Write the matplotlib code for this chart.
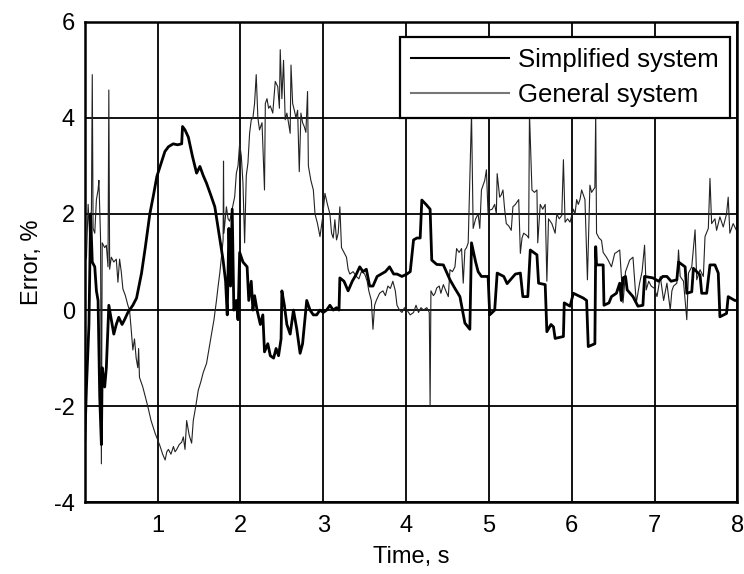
import matplotlib
matplotlib.use("Agg")
import matplotlib.pyplot as plt

plt.rcParams['font.family'] = ['Liberation Sans', 'DejaVu Sans']
plt.rcParams['axes.unicode_minus'] = False

# Simplified system (thick line)
t_simp = [0.12, 0.14, 0.17, 0.19, 0.21, 0.24, 0.26, 0.28, 0.30, 0.32, 0.33, 0.36, 0.38,
          0.41, 0.43, 0.47, 0.50, 0.53, 0.57, 0.60, 0.64, 0.70, 0.745, 0.805, 0.85, 0.905,
          0.95, 0.99, 1.04, 1.087, 1.13, 1.187, 1.24, 1.29, 1.30, 1.33, 1.37, 1.42, 1.47,
          1.51, 1.55, 1.59, 1.64, 1.69, 1.74, 1.79, 1.82, 1.84, 1.86, 1.88, 1.90, 1.92,
          1.95, 1.97, 1.99, 2.03, 2.08, 2.10, 2.13, 2.15, 2.17, 2.20, 2.24, 2.27, 2.29,
          2.33, 2.36, 2.40, 2.43, 2.46, 2.49, 2.50, 2.53, 2.56, 2.60, 2.64, 2.68, 2.72,
          2.75, 2.80, 2.84, 2.88, 2.92, 2.96, 3.00, 3.04, 3.08, 3.12, 3.16, 3.19, 3.20,
          3.25, 3.30, 3.35, 3.40, 3.44, 3.48, 3.52, 3.56, 3.60, 3.65, 3.70, 3.75, 3.80,
          3.85, 3.89, 3.95, 4.01, 4.05, 4.09, 4.13, 4.17, 4.19, 4.24, 4.29, 4.31, 4.37,
          4.45, 4.53, 4.59, 4.65, 4.71, 4.77, 4.79, 4.84, 4.87, 4.91, 4.99, 5.01, 5.07,
          5.10, 5.18, 5.22, 5.26, 5.32, 5.38, 5.41, 5.47, 5.50, 5.58, 5.60, 5.68, 5.70,
          5.75, 5.78, 5.80, 5.90, 5.91, 5.98, 6.02, 6.08, 6.14, 6.18, 6.20, 6.28, 6.29,
          6.30, 6.38, 6.39, 6.45, 6.48, 6.54, 6.58, 6.60, 6.62, 6.65, 6.67, 6.74, 6.80,
          6.86, 6.88, 6.98, 7.05, 7.10, 7.15, 7.20, 7.27, 7.29, 7.37, 7.39, 7.45, 7.47,
          7.55, 7.57, 7.63, 7.67, 7.73, 7.77, 7.79, 7.87, 7.89, 7.97, 8.00]
e_simp = [-2.7, -1.6, -0.3, 2.0, 1.0, 0.9, 0.4, 0.2, -1.8, -2.8, -1.2, -1.6, -1.2,
          0.1, -0.1, -0.5, -0.3, -0.15, -0.3, -0.2, -0.05, 0.1, 0.25, 0.77, 1.3, 2.0,
          2.4, 2.78, 3.05, 3.3, 3.4, 3.46, 3.44, 3.46, 3.82, 3.75, 3.6, 3.2, 2.85,
          2.99, 2.8, 2.64, 2.4, 2.15, 1.6, 1.04, 0.6, -0.1, 1.7, 0.5, 2.1, 0.0,
          0.2, -0.2, 1.2, 1.0, 0.9, 0.2, 0.6, 0.0, 0.3, 0.0, -0.3, -0.1, -0.87,
          -0.7, -0.95, -1.0, -0.8, -0.95, -0.6, 0.4, 0.1, -0.3, -0.5, 0.0, -0.4, -0.9,
          -0.7, 0.2, 0.0, -0.1, -0.1, 0.0, -0.05, 0.0, 0.1, 0.0, 0.05, 0.0, 0.67,
          0.6, 0.4, 0.6, 0.75, 0.9, 0.8, 0.85, 0.5, 0.5, 0.7, 0.75, 0.8, 0.9,
          0.75, 0.75, 0.7, 0.75, 0.8, 1.46, 1.5, 1.5, 2.29, 2.2, 2.1, 1.04, 0.95,
          0.94, 0.63, 0.45, 0.28, -0.27, -0.4, 1.4, 1.0, 0.8, 0.7, 0.7, -0.1, 0.0,
          0.77, 0.7, 0.55, 0.63, 0.75, 0.77, 0.28, 0.28, 1.25, 1.15, 0.56, 0.53, -0.45,
          -0.3, -0.35, -0.59, -0.55, 0.15, 0.08, 0.35, 0.3, 0.25, 0.2, -0.76, -0.7, 1.32,
          0.94, 0.94, 0.1, 0.15, 0.28, 0.35, 0.56, 0.2, 0.67, 0.7, 0.42, 0.28, 0.08,
          0.1, 0.7, 0.67, 0.6, 0.7, 0.7, 0.6, 0.63, 1.0, 0.9, 0.35, 0.38, 0.87,
          0.73, 0.35, 0.35, 0.94, 0.94, 0.77, -0.14, -0.07, 0.28, 0.2, 0.2]

# General system (thin line)
t_gen = [0.12, 0.14, 0.16, 0.18, 0.20, 0.21, 0.22, 0.24, 0.26, 0.28, 0.29, 0.31, 0.32,
         0.33, 0.36, 0.38, 0.40, 0.41, 0.42, 0.44, 0.47, 0.50, 0.52, 0.54, 0.56, 0.58,
         0.61, 0.64, 0.66, 0.68, 0.70, 0.72, 0.74, 0.76, 0.77, 0.78, 0.82, 0.85, 0.88,
         0.92, 0.97, 1.00, 1.03, 1.06, 1.09, 1.11, 1.13, 1.16, 1.19, 1.21, 1.23, 1.26,
         1.29, 1.31, 1.33, 1.35, 1.38, 1.41, 1.43, 1.46, 1.49, 1.52, 1.55, 1.59, 1.62,
         1.65, 1.68, 1.71, 1.73, 1.75, 1.77, 1.79, 1.795, 1.80, 1.83, 1.85, 1.87, 1.90,
         1.93, 1.95, 1.97, 1.99, 2.01, 2.03, 2.05, 2.07, 2.09, 2.11, 2.13, 2.15, 2.17,
         2.19, 2.21, 2.23, 2.26, 2.29, 2.30, 2.32, 2.34, 2.36, 2.39, 2.42, 2.45, 2.47,
         2.48, 2.50, 2.52, 2.54, 2.56, 2.58, 2.60, 2.61, 2.63, 2.65, 2.67, 2.69, 2.71,
         2.73, 2.75, 2.77, 2.79, 2.81, 2.82, 2.85, 2.88, 2.90, 2.93, 2.96, 2.99, 3.02,
         3.05, 3.08, 3.10, 3.12, 3.14, 3.16, 3.18, 3.20, 3.22, 3.25, 3.28, 3.30, 3.32,
         3.36, 3.40, 3.43, 3.46, 3.50, 3.53, 3.55, 3.58, 3.60, 3.62, 3.64, 3.68, 3.72,
         3.75, 3.78, 3.81, 3.84, 3.87, 3.89, 3.92, 3.95, 3.98, 4.01, 4.05, 4.09, 4.12,
         4.15, 4.18, 4.21, 4.25, 4.28, 4.29, 4.30, 4.33, 4.35, 4.37, 4.40, 4.42, 4.45,
         4.48, 4.51, 4.53, 4.56, 4.59, 4.61, 4.64, 4.67, 4.69, 4.71, 4.73, 4.75, 4.79,
         4.81, 4.84, 4.87, 4.89, 4.91, 4.93, 4.95, 4.97, 4.99, 5.01, 5.04, 5.07, 5.09,
         5.10, 5.13, 5.15, 5.17, 5.19, 5.21, 5.24, 5.27, 5.29, 5.32, 5.36, 5.38, 5.40,
         5.42, 5.46, 5.48, 5.49, 5.52, 5.55, 5.58, 5.59, 5.62, 5.65, 5.68, 5.70, 5.72,
         5.76, 5.80, 5.82, 5.85, 5.88, 5.90, 5.92, 5.95, 5.98, 6.02, 6.04, 6.06, 6.08,
         6.10, 6.12, 6.14, 6.16, 6.19, 6.22, 6.24, 6.26, 6.28, 6.29, 6.30, 6.33, 6.36,
         6.38, 6.42, 6.44, 6.48, 6.52, 6.54, 6.58, 6.60, 6.62, 6.65, 6.70, 6.74, 6.78,
         6.82, 6.85, 6.88, 6.90, 6.93, 6.96, 7.00, 7.03, 7.07, 7.11, 7.15, 7.19, 7.21,
         7.23, 7.27, 7.29, 7.31, 7.35, 7.39, 7.41, 7.45, 7.49, 7.51, 7.55, 7.59, 7.61,
         7.65, 7.67, 7.69, 7.73, 7.75, 7.79, 7.83, 7.87, 7.89, 7.91, 7.95, 7.99]
e_gen = [1.0, 1.1, 2.2, 1.5, 2.1, 4.9, 1.7, 1.6, 2.3, 2.5, 2.7, 1.5, -3.2,
         1.4, 1.3, 1.35, 0.9, 4.58, 0.85, 1.1, 1.0, 1.06, 0.58, 1.06, 0.8, 0.44,
         0.3, 0.1, 0.0, -0.4, -0.83, -0.6, -1.0, -1.2, -0.8, -1.4, -1.6, -1.8, -2.0,
         -2.3, -2.57, -2.7, -2.84, -3.0, -3.12, -2.95, -2.9, -3.0, -2.84, -2.95, -2.9, -2.8,
         -2.75, -2.64, -2.9, -2.3, -2.6, -2.77, -2.3, -2.0, -1.67, -1.5, -1.3, -1.11, -0.8,
         -0.5, -0.2, 0.2, 0.5, 0.77, 1.1, 1.46, 3.1, 1.6, 2.15, 1.9, 1.85, 2.1,
         2.36, 2.85, 3.0, 3.47, 3.2, 2.64, 1.4, 2.8, 3.06, 3.68, 3.96, 4.0, 4.3,
         4.9, 4.0, 3.75, 3.9, 2.5, 4.3, 4.4, 4.2, 4.25, 4.1, 4.76, 4.65, 4.2,
         5.42, 4.4, 5.2, 3.96, 4.1, 3.9, 3.68, 5.1, 4.3, 4.16, 4.0, 4.16, 2.88,
         4.1, 3.9, 3.82, 3.7, 4.55, 3.0, 2.7, 2.5, 2.0, 1.8, 1.53, 1.9, 2.43,
         2.2, 2.0, 1.6, 1.5, 1.88, 1.46, 1.6, 2.15, 1.3, 1.2, 1.1, 0.85, 0.75,
         0.8, 0.7, 0.65, 0.8, 0.75, 0.6, 0.4, 0.2, -0.4, 0.1, 0.2, 0.35, 0.4,
         0.3, 0.5, 0.45, 0.6, 0.4, 0.1, 0.0, -0.05, 0.05, 0.0, -0.1, -0.05, 0.1,
         -0.05, 0.05, 0.0, 0.05, -0.05, -2.0, 0.4, 0.3, 0.35, 0.46, 0.5, 0.35, 0.53,
         0.4, 0.28, 0.84, 0.8, 0.9, 1.28, 1.2, 1.28, 0.56, 1.25, 1.3, 1.4, 4.1,
         1.7, 1.9, 2.0, 1.7, 2.5, 2.6, 2.7, 2.92, 2.0, 2.08, 2.1, 2.2, 2.0,
         2.84, 2.35, 2.4, 2.5, 2.1, 1.8, 1.75, 1.66, 2.15, 2.2, 2.3, 1.18, 1.5,
         1.6, 1.55, 1.5, 4.1, 2.5, 2.45, 2.5, 1.4, 2.2, 2.1, 2.2, 0.6, 1.9,
         1.8, 1.6, 2.0, 1.9, 1.97, 3.13, 1.83, 1.9, 1.83, 2.1, 2.0, 2.3, 2.2,
         2.3, 2.5, 2.4, 2.3, 0.63, 2.6, 2.45, 2.5, 2.55, 4.1, 1.6, 1.5, 1.45,
         1.2, 1.1, 1.04, 0.9, 1.18, 1.2, 1.25, 0.7, 0.15, 0.8, 1.04, 1.1, 0.15,
         0.56, 0.8, 1.35, 0.42, 0.6, 0.5, 0.45, 0.28, 0.7, 0.2, 0.56, 0.0, 0.4,
         0.5, 0.56, 1.25, 0.7, 0.6, -0.2, 0.77, 0.9, 1.67, 0.63, 0.84, 0.7, 1.53,
         1.7, 2.74, 1.8, 1.9, 1.66, 1.94, 1.73, 2.0, 2.35, 1.6, 1.8, 1.66]

x_ticks = [1, 2, 3, 4, 5, 6, 7, 8]
y_ticks = [-4, -2, 0, 2, 4, 6]

fig = plt.figure(figsize=(7.44, 5.74), dpi=100)
ax = fig.add_axes([0.114, 0.125, 0.877, 0.837])

ax.plot(t_simp, e_simp, color='black', linewidth=2.0, label='Simplified system', zorder=3)
ax.plot(t_gen, e_gen, color='#222222', linewidth=0.8, label='General system', zorder=2)

ax.set_xlim(0.12, 8)
ax.set_ylim(-4, 6)
ax.set_xticks(x_ticks)
ax.set_yticks(y_ticks)
ax.grid(True, color='black', linestyle='-', linewidth=1.3)
ax.set_axisbelow(True)
for s in ax.spines.values():
    s.set_linewidth(1.8)
ax.tick_params(length=0, labelsize=17)
ax.tick_params(axis='x', pad=9)
ax.tick_params(axis='y', pad=7)

ax.set_xlabel('Time, s', fontsize=17, labelpad=7)
ax.set_ylabel('Error, %', fontsize=17, labelpad=8)

leg = ax.legend(loc='upper right', bbox_to_anchor=(0.989, 0.969), fontsize=18.5,
                fancybox=False, framealpha=1, edgecolor='black',
                handlelength=3.8, handletextpad=0.35, labelspacing=0.4,
                borderpad=0.45, borderaxespad=0)
leg.get_frame().set_linewidth(1.6)
for h in leg.get_lines():
    h.set_linewidth(1.5)
leg.get_lines()[1].set_color('#777777')

plt.savefig('out.png', dpi=100)
